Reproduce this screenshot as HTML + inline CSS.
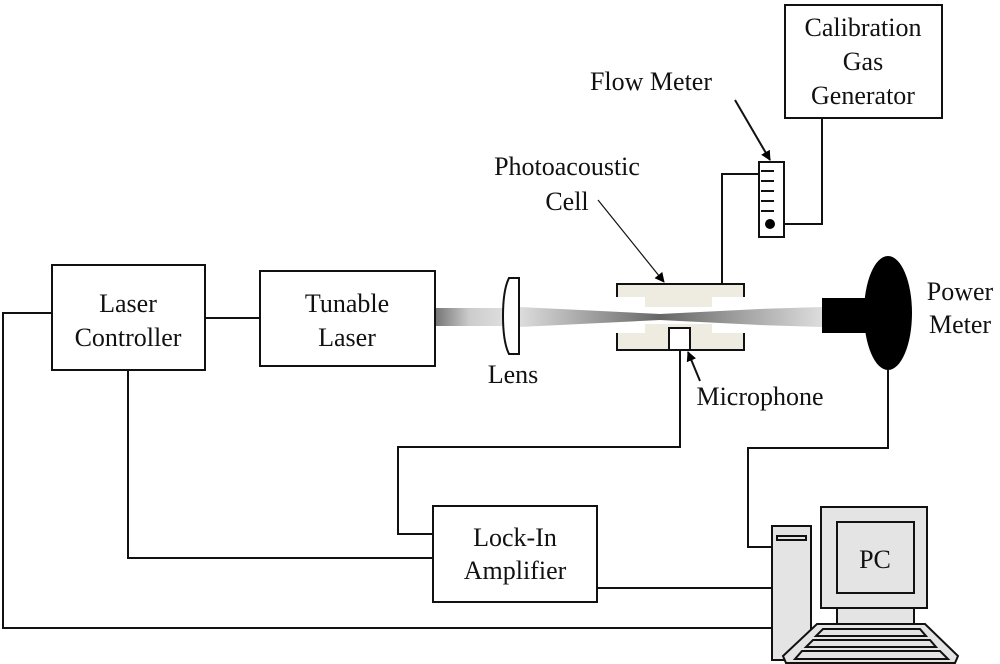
<!DOCTYPE html>
<html><head><meta charset="utf-8"><style>
html,body{margin:0;padding:0;background:#fff}
svg{display:block}
text{font-family:"Liberation Serif",serif;font-size:26px;fill:#111}
</style></head><body>
<svg width="1000" height="664" viewBox="0 0 1000 664" xmlns="http://www.w3.org/2000/svg">
<defs>
<linearGradient id="g1" x1="0" x2="1" y1="0" y2="0">
<stop offset="0" stop-color="#777"/><stop offset="0.5" stop-color="#ccc"/><stop offset="1" stop-color="#ddd"/></linearGradient>
<linearGradient id="g2" x1="0" x2="1" y1="0" y2="0">
<stop offset="0" stop-color="#ddd"/><stop offset="1" stop-color="#666"/></linearGradient>
<linearGradient id="g3" x1="0" x2="1" y1="0" y2="0">
<stop offset="0" stop-color="#666"/><stop offset="1" stop-color="#ddd"/></linearGradient>
<marker id="ar" markerWidth="10" markerHeight="10" refX="9" refY="5" orient="auto" markerUnits="userSpaceOnUse">
<path d="M0,0 L10,5 L0,10 z" fill="#000"/></marker>
</defs>
<g fill="none" stroke="#111" stroke-width="2">
<!-- wires -->
<polyline points="52,313 3,313 3,628 772,628"/>
<polyline points="205,318 260,318"/>
<polyline points="128,370 128,558 433,558"/>
<polyline points="680,350 680,447 398,447 398,534 433,534"/>
<polyline points="597,588 772,588"/>
<polyline points="888,370 888,448 748,448 748,547 772,547"/>
<polyline points="722,284 722,174 759,174"/>
<polyline points="784,224 822,224 822,118"/>
</g>
<!-- beam -->
<polygon points="436,308 503,308 503,326 436,326" fill="url(#g1)"/>
<polygon points="519,307 560,309 660,314 660,320 560,325 519,327" fill="url(#g2)"/>
<polygon points="660,314 760,309 822,307 822,327 760,325 660,320" fill="url(#g3)"/>
<!-- boxes -->
<g fill="#fff" stroke="#111" stroke-width="2">
<rect x="52" y="265" width="153" height="105"/>
<rect x="260" y="271" width="175" height="95"/>
<rect x="433" y="506" width="164" height="96"/>
<rect x="785" y="5" width="157" height="113"/>
<rect x="759" y="162" width="25" height="75"/>
<path d="M519,278 L509,278 Q503,290 503,316 Q503,342 509,354 L519,354 Z"/>
</g>
<!-- flow meter ticks -->
<g stroke="#111" stroke-width="2">
<line x1="761" y1="171" x2="774" y2="171"/><line x1="761" y1="181" x2="774" y2="181"/>
<line x1="761" y1="191" x2="774" y2="191"/><line x1="761" y1="201" x2="774" y2="201"/>
<line x1="761" y1="211" x2="774" y2="211"/>
</g>
<circle cx="770" cy="224" r="5" fill="#000"/>
<!-- cell -->
<g fill="#eeebe0" stroke="#111" stroke-width="2">
<path d="M617,284 L744,284 L744,297 L712,297 L712,307 L645,307 L645,297 L617,297" stroke="none"/>
<polyline points="617,297 617,284 744,284 744,297" fill="none"/>
<path d="M617,333 L645,333 L645,324 L712,324 L712,333 L744,333 L744,350 L617,350 Z" stroke="none"/>
<polyline points="617,333 617,350 744,350 744,333" fill="none"/>
</g>
<rect x="669" y="328" width="21" height="22" fill="#fff" stroke="#111" stroke-width="2"/>
<!-- power meter -->
<rect x="822" y="298" width="50" height="35" fill="#000"/>
<ellipse cx="888" cy="313" rx="24" ry="57" fill="#000"/>
<!-- PC -->
<g fill="#e4e4e4" stroke="#111" stroke-width="2">
<rect x="772" y="526" width="39" height="134"/>
<rect x="777" y="536" width="29" height="4"/>
<rect x="821" y="507" width="106" height="101"/>
<rect x="837" y="522" width="77" height="71"/>
<rect x="837" y="608" width="77" height="16"/>
<path d="M817,624 L925,624 L958,656 L955,663 L786,663 L783,656 Z"/>
<path d="M823,629 L920,629 L926,636 L816,636 Z" fill="none"/>
<path d="M813,640 L930,640 L936,647 L806,647 Z" fill="none"/>
<path d="M802,651 L940,651 L948,659 L795,659 Z" fill="none"/>
</g>
<!-- arrows -->
<g stroke="#111" fill="none">
<line x1="735" y1="100" x2="770" y2="160" stroke-width="2" marker-end="url(#ar)"/>
<line x1="598" y1="200" x2="664" y2="282" stroke-width="1.2" marker-end="url(#ar)"/>
<line x1="700" y1="381" x2="688" y2="352" stroke-width="2" marker-end="url(#ar)"/>
</g>
<!-- text -->
<g text-anchor="middle">
<text x="128" y="312">Laser</text><text x="128" y="346">Controller</text>
<text x="347" y="312">Tunable</text><text x="347" y="346">Laser</text>
<text x="515" y="546">Lock-In</text><text x="515" y="579">Amplifier</text>
<text x="863" y="36">Calibration</text><text x="863" y="70">Gas</text><text x="863" y="104">Generator</text>
<text x="651" y="90">Flow Meter</text>
<text x="567" y="175">Photoacoustic</text><text x="567" y="210">Cell</text>
<text x="513" y="383">Lens</text>
<text x="760" y="405">Microphone</text>
<text x="960" y="300">Power</text><text x="960" y="333">Meter</text>
<text x="875" y="568" font-size="30">PC</text>
</g>
</svg>
</body></html>
